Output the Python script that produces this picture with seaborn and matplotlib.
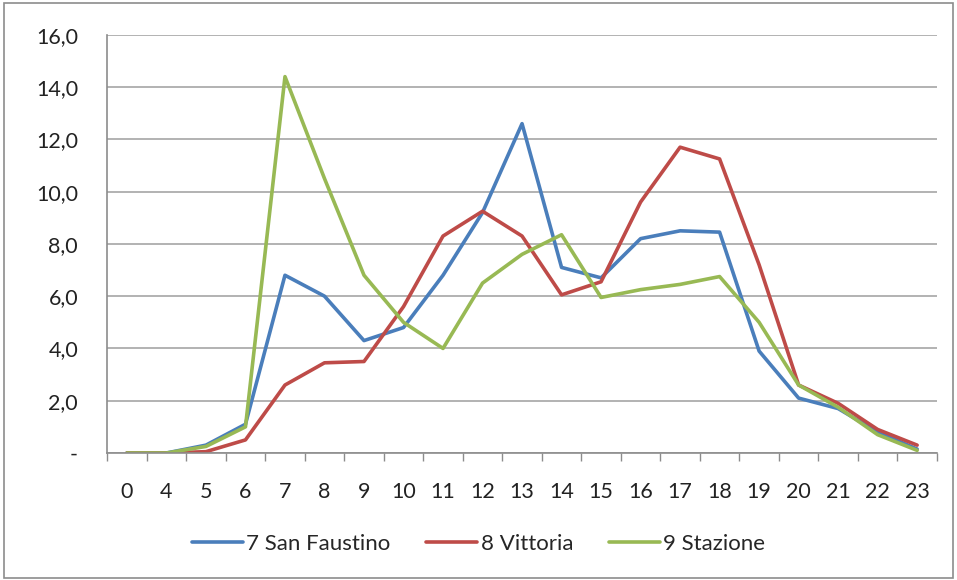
import numpy as np
import pandas as pd
import matplotlib.pyplot as plt
import seaborn as sns
from matplotlib.patches import Rectangle
from matplotlib.ticker import FuncFormatter, FixedLocator

# hours on the x axis (1-3 missing in the source)
hours = ['0', '4', '5', '6', '7', '8', '9', '10', '11', '12', '13', '14',
         '15', '16', '17', '18', '19', '20', '21', '22', '23']

san_faustino = [0.0, 0.0, 0.3, 1.1, 6.8, 6.0, 4.3, 4.8, 6.8, 9.2, 12.6, 7.1,
                6.7, 8.2, 8.5, 8.45, 3.9, 2.1, 1.7, 0.8, 0.15]
vittoria = [0.0, 0.0, 0.05, 0.5, 2.6, 3.45, 3.5, 5.6, 8.3, 9.25, 8.3, 6.05,
            6.55, 9.6, 11.7, 11.25, 7.2, 2.6, 1.9, 0.9, 0.3]
stazione = [0.0, 0.0, 0.25, 1.0, 14.4, 10.5, 6.8, 5.0, 4.0, 6.5, 7.6, 8.35,
            5.95, 6.25, 6.45, 6.75, 5.0, 2.6, 1.75, 0.7, 0.1]

series_names = ['7 San Faustino', '8 Vittoria', '9 Stazione']
colors = ['#4a7ebb', '#be4b48', '#98b954']

df = pd.DataFrame({'ora': hours * 3,
                   'valore': san_faustino + vittoria + stazione,
                   'serie': np.repeat(series_names, len(hours))})

sns.set_style('white')
plt.rcParams['font.family'] = ['Lato', 'DejaVu Sans']

fig = plt.figure(figsize=(9.57, 5.8), dpi=100)
ax = fig.add_axes([0.112, 0.219, 0.867, 0.721])

sns.lineplot(data=df, x='ora', y='valore', hue='serie', palette=colors,
             sort=False, linewidth=2.6, ax=ax)

n = len(hours)
ax.set_xlim(-0.5, n - 0.5)
ax.set_ylim(0, 16)
ax.set_yticks(np.arange(0, 17, 2))
ax.yaxis.set_major_formatter(FuncFormatter(
    lambda v, p: '-' if v == 0 else f'{v:.1f}'.replace('.', ',')))
ax.grid(axis='y', color='#a6a6a6', linewidth=1.2)
ax.set_axisbelow(True)

ax.xaxis.set_minor_locator(FixedLocator(np.arange(-0.5, n, 1.0)))
ax.tick_params(axis='x', which='major', length=0, pad=21, labelsize=15.5, colors='#222222')
ax.tick_params(axis='x', which='minor', length=6, color='#8c8c8c', width=1, bottom=True)
ax.tick_params(axis='y', length=0, pad=21, labelsize=15.5, colors='#222222')

for side in ['top', 'right']:
    ax.spines[side].set_visible(False)
for side in ['left', 'bottom']:
    ax.spines[side].set_color('#8c8c8c')
    ax.spines[side].set_linewidth(1.2)

ax.set_xlabel('')
ax.set_ylabel('')

handles, labels = ax.get_legend_handles_labels()
ax.legend(handles, labels, loc='center', bbox_to_anchor=(0.5, 0.062),
          bbox_transform=fig.transFigure, ncol=3, frameon=False,
          fontsize=16, handlelength=2.3, columnspacing=1.6, handletextpad=0.15)

fig.patches.append(Rectangle((0.004, 0.004), 0.992, 0.99, transform=fig.transFigure,
                             fill=False, edgecolor='#8c8c8c', linewidth=1.2))

fig.savefig('out.png', dpi=100)
